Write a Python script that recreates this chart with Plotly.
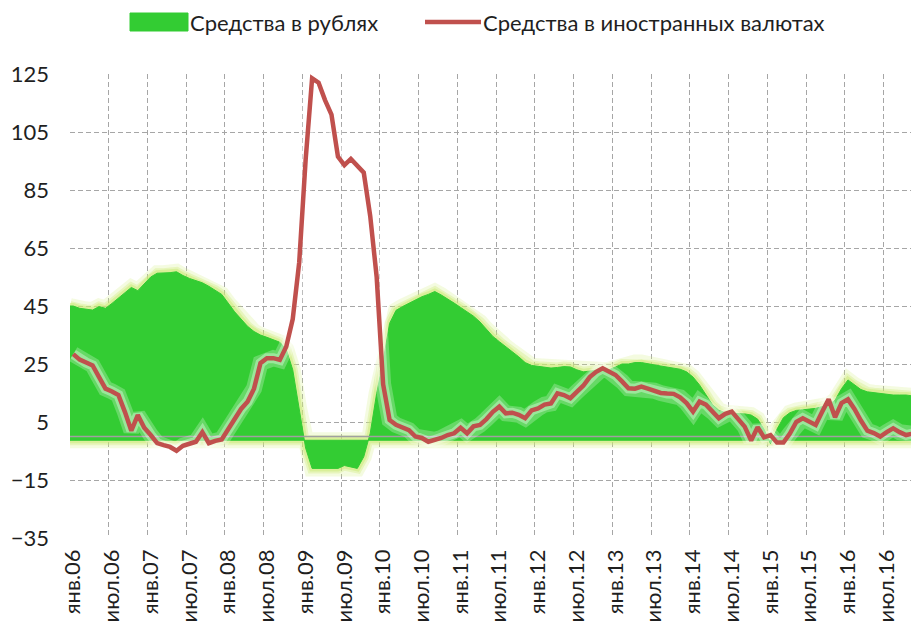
import plotly.graph_objects as go

# Monthly data: Jan 2006 .. Dec 2016 (annual growth, %)
months_ru = ["янв", "июл"]
years = list(range(6, 17))
tick_labels = []
for y in years:
    for m in months_ru:
        tick_labels.append(f"{m}.{y:02d}")

series_names = ["Средства в рублях", "Средства в иностранных валютах"]

rub = [45.0, 44.2, 43.8, 43.6, 44.8, 44.2, 45.9, 47.8, 49.5, 51.4,
       50.3, 52.5, 55.0, 56.3, 56.3, 56.5, 56.8, 55.5, 54.5, 53.8,
       53.0, 51.8, 50.5, 49.0, 46.0, 43.0, 40.5, 38.0, 36.2, 35.0,
       34.2, 33.3, 32.5, 30.0, 23.0, 9.5, -4.0, -11.0, -11.0, -11.0,
       -11.0, -11.0, -10.0, -10.5, -11.0, -7.0, 1.1, 14.9, 26.0, 39.0,
       43.5, 44.8, 46.0, 47.0, 48.2, 49.0, 50.0, 48.8, 47.5, 46.0,
       44.5, 43.0, 41.5, 39.5, 37.0, 34.5, 32.7, 31.0, 29.3, 27.5,
       25.5, 24.5, 24.2, 24.0, 23.6, 23.8, 24.1, 24.0, 23.0, 22.3,
       22.6, 22.8, 22.9, 23.0, 24.0, 25.0, 25.0, 25.5, 25.5, 25.0,
       24.7, 24.3, 24.0, 23.6, 23.2, 22.3, 20.5, 17.8, 14.5, 11.0,
       9.0, 8.2, 8.0, 8.0, 7.8, 7.4, 6.0, 2.5, -2.5, 2.5,
       6.5, 8.2, 9.0, 9.2, 9.4, 9.7, 10.3, 10.9, 12.5, 16.5,
       19.5, 17.8, 16.2, 15.4, 15.1, 14.9, 14.6, 14.3, 14.3, 14.3,
       14.0, 13.7]

fx = [28.4, 26.5, 25.5, 24.5, 20.5, 16.5, 15.5, 14.3, 8.5, 2.0,
      7.4, 3.0, 0.5, -2.3, -3.0, -3.6, -4.9, -3.2, -2.5, -1.8,
      1.5, -2.3, -1.5, -1.0, 2.5, 6.3, 9.5, 12.0, 16.5, 25.3,
      27.0, 27.0, 26.4, 31.0, 40.5, 60.0, 95.5, 123.5, 122.0, 116.0,
      111.0, 96.5, 93.6, 95.7, 93.5, 91.0, 76.0, 55.0, 18.0, 5.7,
      4.0, 3.2, 2.2, 0.0, -0.5, -1.8, -1.2, -0.5, 0.5, 1.1,
      3.0, 1.1, 3.5, 4.0, 6.0, 8.5, 10.3, 8.0, 8.2, 7.5,
      6.3, 9.0, 9.7, 11.0, 11.4, 14.9, 14.3, 13.2, 15.4, 17.5,
      20.5, 22.3, 23.5, 22.5, 21.2, 19.0, 16.6, 16.5, 17.2, 16.5,
      15.8, 15.0, 14.8, 14.7, 13.5, 11.5, 8.6, 12.0, 11.0, 8.5,
      6.3, 7.8, 8.6, 6.0, 3.4, -1.4, 3.2, -0.3, 0.5, -2.1,
      -2.1, 1.0, 5.0, 6.3, 5.1, 4.0, 8.5, 12.8, 6.6, 11.5,
      12.8, 9.5, 5.5, 2.0, 1.2, 0.0, 1.5, 2.8, 1.5, 0.5,
      1.0, 1.1]

n = len(rub)
idx = list(range(n))
tick_idx = list(range(0, n, 6))[:len(tick_labels)]

GREEN = "#33CC33"
RED = "#C0504D"
GRID = "#A6A6A6"
TXT = "#1f1f1f"
FONT = "Lato, 'Open Sans', sans-serif"
BASE = -1.3  # visual baseline of the area (outline thickness)

# page body adds an 8px offset; layout is expressed so the screen positions match
OFF = 8
W, H = 919, 627
ML, MT = 70 - OFF, 74 - OFF
PLOT_BOTTOM = 538 - OFF
MR, MB = 0, H - PLOT_BOTTOM
PW, PH = W - ML - MR, H - MT - MB
PX_PER_MONTH = 849 / 131.5
x_max = -0.5 + PW / PX_PER_MONTH


def px(xs):
    return (xs - OFF - ML) / PW


def py(ys):
    return 1 + (MT - (ys - OFF)) / PH


# area polygon: from left boundary to right boundary along values, back along baseline
ax = [-0.5] + idx + [n - 0.5]
ay = [rub[0]] + rub + [rub[-1]]
poly_x = ax + ax[::-1] + [ax[0]]
poly_y = ay + [BASE] * len(ax) + [ay[0]]

fig = go.Figure()

# soft glow around the green area
for w, c in [(16, "rgba(210,238,130,0.25)"), (10, "rgba(205,235,120,0.35)"), (6, "rgba(200,232,110,0.45)")]:
    fig.add_trace(go.Scatter(x=poly_x, y=poly_y, mode="lines",
                             line=dict(color=c, width=w), hoverinfo="skip",
                             showlegend=False))

fig.add_trace(go.Scatter(x=poly_x, y=poly_y, mode="lines", fill="toself",
                         fillcolor=GREEN, line=dict(color=GREEN, width=1),
                         name=series_names[0], hoverinfo="skip",
                         showlegend=False))

# horizontal axis line at zero (drawn over the area)
fig.add_trace(go.Scatter(x=[ax[0], ax[-1]], y=[0, 0], mode="lines",
                         line=dict(color="#A0A0A0", width=1.5),
                         hoverinfo="skip", showlegend=False))

# light halo around the red line
for w, c in [(16, "rgba(255,255,255,0.25)"), (10, "rgba(255,255,255,0.35)")]:
    fig.add_trace(go.Scatter(x=idx, y=fx, mode="lines",
                             line=dict(color=c, width=w), hoverinfo="skip",
                             showlegend=False))

fig.add_trace(go.Scatter(x=idx, y=fx, mode="lines",
                         line=dict(color=RED, width=4.5),
                         name=series_names[1], showlegend=False))

# legend drawn in the header (swatches + real text labels)
fig.add_shape(type="rect", xref="paper", yref="paper",
              x0=px(130), x1=px(188), y0=py(31), y1=py(13),
              fillcolor=GREEN, line=dict(color=GREEN, width=1))
fig.add_shape(type="line", xref="paper", yref="paper",
              x0=px(425), x1=px(481), y0=py(22), y1=py(22),
              line=dict(color=RED, width=4.5))
fig.add_annotation(text=series_names[0], xref="paper", yref="paper",
                   x=px(188), y=py(22), xanchor="left", yanchor="middle",
                   showarrow=False, font=dict(family=FONT, size=22, color=TXT))
fig.add_annotation(text=series_names[1], xref="paper", yref="paper",
                   x=px(481), y=py(22), xanchor="left", yanchor="middle",
                   showarrow=False, font=dict(family=FONT, size=22, color=TXT))

fig.update_xaxes(range=[-0.5, x_max], tickmode="array", tickvals=tick_idx,
                 ticktext=tick_labels, tickangle=-90, showgrid=False,
                 zeroline=False, showline=False, ticks="", automargin=False,
                 tickfont=dict(family=FONT, size=22, color=TXT),
                 ticklabelstandoff=6,
                 minor=dict(tick0=-0.5, dtick=6, showgrid=True, gridcolor=GRID,
                            griddash="5px,3px", gridwidth=1, ticks=""))
fig.update_yaxes(range=[-35, 125], tick0=-35, dtick=20, showgrid=True,
                 gridcolor=GRID, griddash="5px,3px", gridwidth=1,
                 zeroline=False, showline=False, ticks="", automargin=False,
                 tickfont=dict(family=FONT, size=22, color=TXT),
                 ticklabelstandoff=20)

fig.update_layout(
    width=W, height=H,
    margin=dict(l=ML, r=MR, t=MT, b=MB, autoexpand=False),
    paper_bgcolor="white", plot_bgcolor="white",
    font=dict(family=FONT, color=TXT),
    showlegend=False,
)

fig.write_html("out.html")
